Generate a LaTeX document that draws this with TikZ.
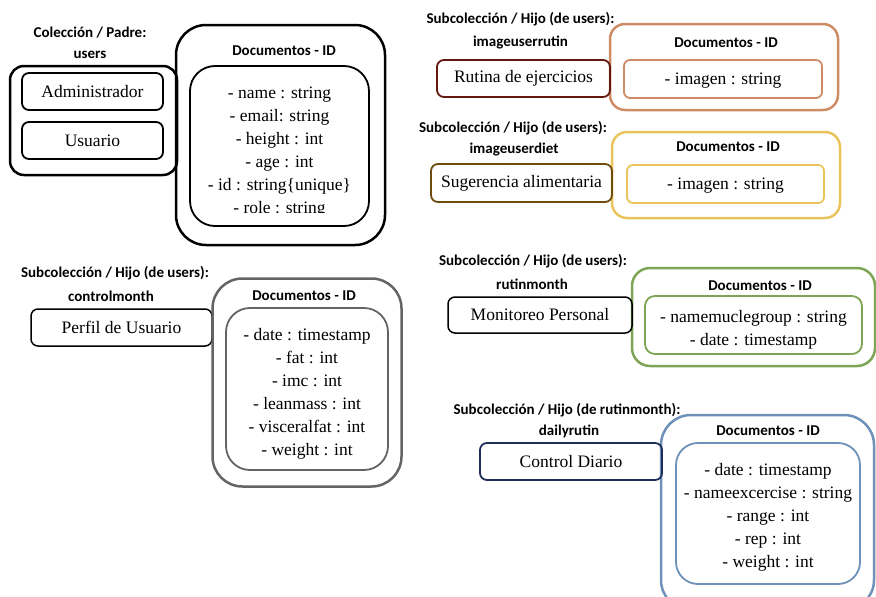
\documentclass[tikz,border=0pt]{standalone}
\usepackage{fontspec}
\setmainfont{Liberation Serif}
\newfontfamily\ttlfont{Carlito}
\definecolor{rutred}{RGB}{100,25,15}
\definecolor{rutorange}{RGB}{205,140,100}
\definecolor{sugbrown}{RGB}{110,75,15}
\definecolor{dietyellow}{RGB}{232,196,90}
\definecolor{cmgray}{RGB}{100,100,100}
\definecolor{rmgreen}{RGB}{125,165,85}
\definecolor{drnavy}{RGB}{30,45,90}
\definecolor{drblue}{RGB}{110,145,185}
\begin{document}
\begin{tikzpicture}[x=1pt,y=-1pt,
  ttl/.style={font=\ttlfont\bfseries\fontsize{15}{17}\selectfont, inner sep=0pt},
  body/.style={font=\fontsize{17.5}{23}\selectfont, align=center, inner sep=0pt},
  namebox/.style={draw, line width=1.8pt, rounded corners=7pt, inner sep=0pt,
     font=\fontsize{17.5}{21}\selectfont},
  outerbox/.style={draw, line width=2.5pt, inner sep=0pt},
  innerbox/.style={draw, line width=1.8pt, inner sep=0pt}]
\useasboundingbox (0,0) rectangle (876,597);

% ---------- users ----------
\node[ttl] (t1a) at (90,33) {Colección / Padre:};
\node[ttl] (t1b) at (90,54.5) {users};
\node[outerbox, rounded corners=14pt, minimum width=167pt, minimum height=109pt] (uout) at (93.5,120.5) {};
\node[namebox, minimum width=141pt, minimum height=37pt] (adm) at (92.5,91.5) {\raisebox{-1.5pt}{Administrador}};
\node[namebox, minimum width=141pt, minimum height=37pt] (usu) at (92.5,140.5) {\raisebox{-1.5pt}{Usuario}};
\node[outerbox, rounded corners=30pt, minimum width=209pt, minimum height=220pt] (udoc) at (280.5,135) {};
\node[ttl] (udt) at (284,51) {Documentos - ID};
\node[innerbox, rounded corners=25pt, minimum width=179pt, minimum height=160pt] (uin) at (279.5,146) {};
\begin{scope}
\clip (190,66) rectangle (369,212.5);
\node[body] (ufields) at (279.5,152) {- name : string\\- email: string\\- height : int\\- age : int\\- id : string\{unique\}\\- role : string};
\end{scope}

% ---------- imageuserrutin ----------
\node[ttl] (t2a) at (520.5,19) {Subcolección / Hijo (de users):};
\node[ttl] (t2b) at (520.5,42.5) {imageuserrutin};
\node[outerbox, draw=rutorange, rounded corners=15pt, minimum width=228pt, minimum height=86pt] (rout) at (724,67) {};
\node[namebox, draw=rutred, minimum width=173pt, minimum height=37pt] (rut) at (523.5,78.5) {\raisebox{-2pt}{Rutina de ejercicios}};
\node[ttl] (rdt) at (726,43) {Documentos - ID};
\node[innerbox, draw=rutorange, rounded corners=6pt, minimum width=198pt, minimum height=38pt] (rin) at (723,79) {};
\node[body] (rfield) at (723,81) {- imagen : string};

% ---------- imageuserdiet ----------
\node[ttl] (t3a) at (513,128.5) {Subcolección / Hijo (de users):};
\node[ttl] (t3b) at (514,149.5) {imageuserdiet};
\node[outerbox, draw=dietyellow, rounded corners=15pt, minimum width=228pt, minimum height=86pt] (dout) at (726,175) {};
\node[namebox, draw=sugbrown, minimum width=181pt, minimum height=38pt] (sug) at (521.5,183) {\raisebox{-1.5pt}{Sugerencia alimentaria}};
\node[ttl] (ddt) at (728,147) {Documentos - ID};
\node[innerbox, draw=dietyellow, rounded corners=6pt, minimum width=197pt, minimum height=38pt] (din) at (725.5,184) {};
\node[body] (dfield) at (725.5,186) {- imagen : string};

% ---------- controlmonth ----------
\node[ttl] (t4a) at (115,273) {Subcolección / Hijo (de users):};
\node[ttl] (t4b) at (111,296) {controlmonth};
\node[namebox, line width=1.5pt, minimum width=181pt, minimum height=37pt] (perf) at (121.5,327.5) {\raisebox{-1pt}{Perfil de Usuario}};
\node[outerbox, draw=cmgray, rounded corners=30pt, minimum width=189pt, minimum height=208pt] (cout) at (307,382.5) {};
\node[ttl] (cdt) at (304,296) {Documentos - ID};
\node[innerbox, draw=cmgray, rounded corners=24pt, minimum width=162pt, minimum height=162pt] (cin) at (307,389) {};
\node[body] (cfields) at (307,394) {- date : timestamp\\- fat : int\\- imc : int\\- leanmass : int\\- visceralfat : int\\- weight : int};

% ---------- rutinmonth ----------
\node[ttl] (t5a) at (533,261) {Subcolección / Hijo (de users):};
\node[ttl] (t5b) at (532,284.5) {rutinmonth};
\node[outerbox, draw=rmgreen, rounded corners=18pt, minimum width=243pt, minimum height=98pt] (mout) at (753.5,317) {};
\node[namebox, line width=1.5pt, minimum width=184pt, minimum height=36pt] (mon) at (540,315) {\raisebox{-1.5pt}{Monitoreo Personal}};
\node[ttl] (mdt) at (760,286) {Documentos - ID};
\node[innerbox, draw=rmgreen, rounded corners=10pt, minimum width=217pt, minimum height=58pt] (min) at (753.5,325) {};
\node[body] (mfields) at (753.5,330) {- namemuclegroup : string\\- date : timestamp};

% ---------- dailyrutin ----------
\node[ttl] (t6a) at (567,410) {Subcolección / Hijo (de rutinmonth):};
\node[ttl] (t6b) at (569,431.5) {dailyrutin};
\node[outerbox, draw=drblue, rounded corners=30pt, minimum width=213pt, minimum height=195pt] (rdout) at (767.5,512.5) {};
\node[namebox, draw=drnavy, minimum width=182pt, minimum height=37pt] (ctl) at (571,461.5) {\raisebox{-1.5pt}{Control Diario}};
\node[ttl] (rddt) at (768,431) {Documentos - ID};
\node[innerbox, draw=drblue, rounded corners=22pt, minimum width=184pt, minimum height=141pt] (rdin) at (768,513.5) {};
\node[body] (rdfields) at (768,517) {- date : timestamp\\- nameexcercise : string\\- range : int\\- rep : int\\- weight : int};
\end{tikzpicture}
\end{document}
